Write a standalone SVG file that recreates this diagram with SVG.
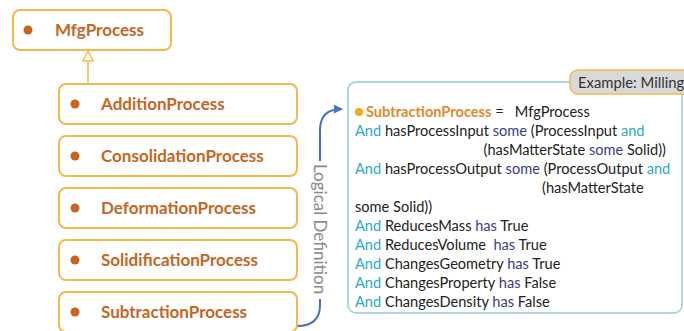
<svg xmlns="http://www.w3.org/2000/svg" width="684" height="331" viewBox="0 0 684 331">
<style>
.box{fill:#fff;stroke:#F2B94E;stroke-width:2}
.dot{fill:#C8641E}
.lbl{font-family:Lato,"Liberation Sans",sans-serif;font-weight:bold;font-size:17px;fill:#C4661F}
.def{font-family:Lato,"Liberation Sans",sans-serif;font-size:14.6px;fill:#222;white-space:pre}
.k{fill:#2AA8CC}
.h{fill:#3B3B8E}
.conn{fill:none;stroke:#4472C4;stroke-width:2}
</style>
<defs>
<marker id="tri" viewBox="0 0 12 12" refX="11" refY="6" markerWidth="12" markerHeight="12" markerUnits="userSpaceOnUse" orient="auto">
<path d="M1,1 L11,6 L1,11 Z" fill="#fff" stroke="#F2B94E" stroke-width="1.5"/>
</marker>
<marker id="arr" viewBox="0 0 10 10" refX="9" refY="5" markerWidth="9" markerHeight="9" markerUnits="userSpaceOnUse" orient="auto">
<path d="M0,0 L10,5 L0,10 Z" fill="#4472C4"/>
</marker>
</defs>
<g id="connectors">
<path d="M88,84 L88,51" fill="none" stroke="#F2B94E" stroke-width="1.5" marker-end="url(#tri)"/>
<path class="conn" d="M297,326 Q320,326 320,305 L320,299"/>
<path class="conn" d="M320,161 L320,130 Q320,109 342,109" marker-end="url(#arr)"/>
<text transform="translate(314,164) rotate(90)" font-family="Lato,'Liberation Sans',sans-serif" font-size="17" fill="#8a8a8a">Logical Definition</text>
</g>
<g id="MfgProcess">
<rect class="box" x="13" y="10" width="158" height="40" rx="7"/>
<circle class="dot" cx="28" cy="30" r="4.5"/>
<text class="lbl" x="55" y="36">MfgProcess</text>
</g>
<g id="AdditionProcess">
<rect class="box" x="59" y="84" width="238" height="40" rx="7"/>
<circle class="dot" cx="75" cy="104" r="4.5"/>
<text class="lbl" x="101" y="110">AdditionProcess</text>
</g>
<g id="ConsolidationProcess">
<rect class="box" x="59" y="136" width="238" height="40" rx="7"/>
<circle class="dot" cx="75" cy="156" r="4.5"/>
<text class="lbl" x="101" y="162">ConsolidationProcess</text>
</g>
<g id="DeformationProcess">
<rect class="box" x="59" y="188" width="238" height="40" rx="7"/>
<circle class="dot" cx="75" cy="208" r="4.5"/>
<text class="lbl" x="101" y="214">DeformationProcess</text>
</g>
<g id="SolidificationProcess">
<rect class="box" x="59" y="240" width="238" height="40" rx="7"/>
<circle class="dot" cx="75" cy="260" r="4.5"/>
<text class="lbl" x="101" y="266">SolidificationProcess</text>
</g>
<g id="SubtractionProcess">
<rect class="box" x="59" y="292" width="238" height="40" rx="7"/>
<circle class="dot" cx="75" cy="312" r="4.5"/>
<text class="lbl" x="101" y="318">SubtractionProcess</text>
</g>
<g id="definition">
<rect x="348" y="82" width="334" height="231" rx="8" fill="#fff" stroke="#A9D9DD" stroke-width="2"/>
<rect x="570" y="70" width="130" height="24" rx="8" fill="#D9D9D9" stroke="#F2B94E" stroke-width="1.5"/>
<text x="578" y="88" font-family="Lato,'Liberation Sans',sans-serif" font-size="14.8" fill="#333">Example: Milling</text>
<circle cx="359" cy="112" r="4" fill="#F5A623"/>
<text class="def" x="366" y="117"><tspan font-weight="bold" fill="#E08A2E">SubtractionProcess</tspan> =   MfgProcess</text>
<text class="def" x="355" y="136"><tspan class="k">And</tspan> hasProcessInput <tspan class="h">some</tspan> (ProcessInput <tspan class="k">and</tspan></text>
<text class="def" x="666" y="155" text-anchor="end">(hasMatterState <tspan class="h">some</tspan> Solid))</text>
<text class="def" x="355" y="174"><tspan class="k">And</tspan> hasProcessOutput <tspan class="h">some</tspan> (ProcessOutput <tspan class="k">and</tspan></text>
<text class="def" x="542" y="193">(hasMatterState</text>
<text class="def" x="355" y="212">some Solid))</text>
<text class="def" x="355" y="231"><tspan class="k">And</tspan> ReducesMass <tspan class="h">has</tspan> True</text>
<text class="def" x="355" y="250"><tspan class="k">And</tspan> ReducesVolume  <tspan class="h">has</tspan> True</text>
<text class="def" x="355" y="269"><tspan class="k">And</tspan> ChangesGeometry <tspan class="h">has</tspan> True</text>
<text class="def" x="355" y="288"><tspan class="k">And</tspan> ChangesProperty <tspan class="h">has</tspan> False</text>
<text class="def" x="355" y="307"><tspan class="k">And</tspan> ChangesDensity <tspan class="h">has</tspan> False</text>
</g>
</svg>
